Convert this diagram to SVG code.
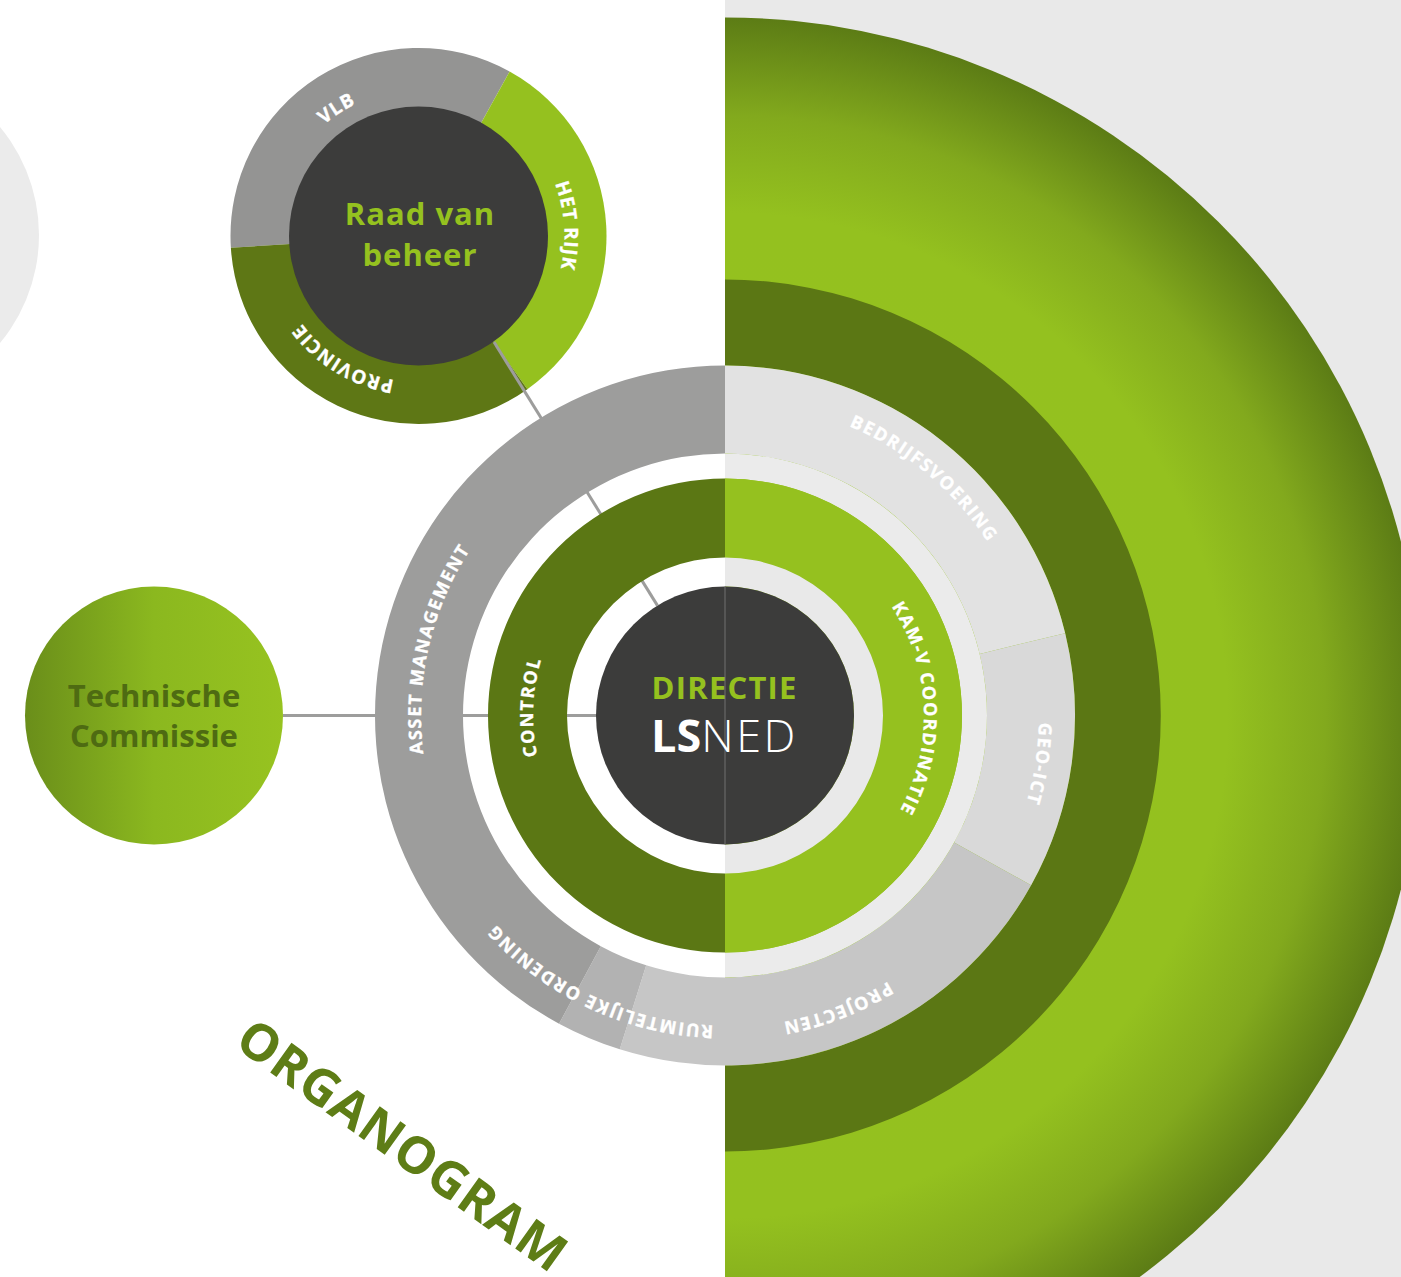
<svg xmlns="http://www.w3.org/2000/svg" width="1401" height="1277" viewBox="0 0 1401 1277">
<defs>
<radialGradient id="bigGreen" gradientUnits="userSpaceOnUse" cx="725" cy="715.5" r="698">
<stop offset="0" stop-color="#95c11f"/>
<stop offset="0.72" stop-color="#94c11f"/>
<stop offset="0.86" stop-color="#82a91d"/>
<stop offset="1" stop-color="#5c7c15"/>
</radialGradient>
<linearGradient id="tcGreen" gradientUnits="userSpaceOnUse" x1="25" y1="0" x2="283" y2="0">
<stop offset="0" stop-color="#6a8e1a"/>
<stop offset="0.5" stop-color="#8bb81f"/>
<stop offset="1" stop-color="#97c320"/>
</linearGradient>
<path id="pBedr" d="M522.52,474.2 A315,315 0 0 1 997.8,873"/>
<path id="pGeo" d="M826.19,418.25 A314,314 0 0 1 731.58,1029.43"/>
<path id="pProj" d="M1031.27,655.97 A312,312 0 0 1 457.56,876.19"/>
<path id="pRuim" d="M978.94,893.31 A310,310 0 0 1 425.56,635.27"/>
<path id="pAsset" d="M606.22,995.33 A304,304 0 0 1 740.91,411.92"/>
<path id="pControl" d="M683.44,902.95 A192,192 0 0 1 699.94,525.14"/>
<path id="pKam" d="M752.01,518.34 A199,199 0 0 1 767.05,910.01"/>
<path id="pVlb" d="M283.81,292.34 A146,146 0 0 1 525.8,136.99"/>
<path id="pHet" d="M433.76,90.8 A146,146 0 0 1 453.82,377.66"/>
<path id="pProv" d="M527.85,332.74 A146,146 0 0 1 282.66,182.49"/>
</defs>
<style>
.ring{font-family:"Open Sans","Liberation Sans",sans-serif;font-weight:700;fill:#ffffff;stroke:#ffffff;stroke-width:0.3px;font-size:18px;letter-spacing:1.6px;}
.rring{font-family:"Open Sans","Liberation Sans",sans-serif;font-weight:700;fill:#ffffff;stroke:#ffffff;stroke-width:0.3px;font-size:19px;letter-spacing:1px;}
.title{font-family:"Open Sans","Liberation Sans",sans-serif;font-weight:700;text-anchor:middle;}
.conn{stroke:#9d9d9c;stroke-width:3;fill:none;}
</style>
<rect x="0" y="0" width="1401" height="1277" fill="#ffffff"/>
<rect x="725" y="0" width="676" height="1277" fill="#e9e9e9"/>
<circle cx="-130" cy="235" r="169" fill="#ebebeb"/>
<g id="background-arcs">
<path d="M725,17.5 A698,698 0 0 1 725,1413.5 Z" fill="url(#bigGreen)"/>
<path d="M725,279.5 A436,436 0 0 1 725,1151.5 L725,1065.5 A350,350 0 0 0 725,365.5 Z" fill="#5b7714"/>
</g>
<g id="raad-van-beheer">
<path d="M418.5,236 L230.87,247.8 A188,188 0 0 1 509.64,71.57 Z" fill="#949493"/>
<path d="M418.5,236 L509.64,71.57 A188,188 0 0 1 527.4,389.24 Z" fill="#95c11f"/>
<path d="M418.5,236 L527.4,389.24 A188,188 0 0 1 230.87,247.8 Z" fill="#5e7715"/>
<circle cx="418.5" cy="236" r="129.5" fill="#3c3c3b"/>
<text class="rring"><textPath href="#pVlb" startOffset="50%" text-anchor="middle">VLB</textPath></text>
<text class="rring"><textPath href="#pHet" startOffset="50%" text-anchor="middle">HET RIJK</textPath></text>
<text class="rring"><textPath href="#pProv" startOffset="50%" text-anchor="middle">PROVINCIE</textPath></text>
<text class="title" x="420" y="225" font-size="31" fill="#95c11f" letter-spacing="1">Raad van</text>
<text class="title" x="420" y="266" font-size="31" fill="#95c11f" letter-spacing="1">beheer</text>
</g>
<g id="connectors">
<line class="conn" x1="283" y1="715.5" x2="596" y2="715.5"/>
<line class="conn" x1="494" y1="342" x2="657.5" y2="605.6"/>
</g>
<g id="technische-commissie">
<circle cx="154" cy="715.5" r="129" fill="url(#tcGreen)"/>
<text class="title" x="154" y="707" font-size="31" fill="#4e6b12">Technische</text>
<text class="title" x="154" y="747" font-size="31" fill="#4e6b12">Commissie</text>
</g>
<g id="bedrijfsvoering">
<path d="M725,365.5 A350,350 0 0 1 1065.19,633.2 L979.65,653.89 A262,262 0 0 0 725,453.5 Z" fill="#e2e2e2"/>
<text class="ring"><textPath href="#pBedr" startOffset="50%" text-anchor="middle">BEDRIJFSVOERING</textPath></text>
</g>
<g id="geo-ict">
<path d="M1065.19,633.2 A350,350 0 0 1 1031.12,885.18 L954.15,842.52 A262,262 0 0 0 979.65,653.89 Z" fill="#d9d9d9"/>
<text class="ring"><textPath href="#pGeo" startOffset="50%" text-anchor="middle">GEO-ICT</textPath></text>
</g>
<g id="projecten">
<path d="M1031.12,885.18 A350,350 0 0 1 619.75,1049.3 L646.21,965.37 A262,262 0 0 0 954.15,842.52 Z" fill="#c6c6c6"/>
<text class="ring"><textPath href="#pProj" startOffset="50%" text-anchor="middle">PROJECTEN</textPath></text>
</g>
<g id="ruimtelijke-ordening">
<path d="M619.75,1049.3 A350,350 0 0 1 559.07,1023.67 L600.79,946.19 A262,262 0 0 0 646.21,965.37 Z" fill="#b2b2b2"/>
</g>
<g id="asset-management">
<path d="M559.07,1023.67 A350,350 0 0 1 725,365.5 L725,453.5 A262,262 0 0 0 600.79,946.19 Z" fill="#9d9d9c"/>
<text class="ring"><textPath href="#pAsset" startOffset="50%" text-anchor="middle">ASSET MANAGEMENT</textPath></text>
</g>
<text class="ring"><textPath href="#pRuim" startOffset="50%" text-anchor="middle">RUIMTELIJKE ORDENING</textPath></text>
<path d="M725,453.5 A262,262 0 0 1 725,977.5 L725,952.5 A237,237 0 0 0 725,478.5 Z" fill="#ebebeb"/>
<g id="control">
<path d="M725,952.5 A237,237 0 0 1 725,478.5 L725,557.5 A158,158 0 0 0 725,873.5 Z" fill="#5b7714"/>
<text class="ring"><textPath href="#pControl" startOffset="50%" text-anchor="middle">CONTROL</textPath></text>
</g>
<g id="kam-v-coordinatie">
<path d="M725,478.5 A237,237 0 0 1 725,952.5 L725,873.5 A158,158 0 0 0 725,557.5 Z" fill="#95c11f"/>
<text class="ring"><textPath href="#pKam" startOffset="50%" text-anchor="middle">KAM-V COORDINATIE</textPath></text>
</g>
<path d="M725,557.5 A158,158 0 0 1 725,873.5 L725,844.5 A129,129 0 0 0 725,586.5 Z" fill="#e9e9e9"/>
<g id="directie">
<circle cx="725" cy="715.5" r="129" fill="#3c3c3b"/>
<line x1="725" y1="586.5" x2="725" y2="844.5" stroke="#707070" stroke-width="1"/>
<text class="title" x="724.6" y="699" font-size="31" fill="#95c11f" letter-spacing="1.2">DIRECTIE</text>
<text x="651" y="752" font-family="'Open Sans','Liberation Sans',sans-serif" font-size="45" fill="#ffffff"><tspan font-weight="700">LS</tspan><tspan font-weight="300" letter-spacing="2.5">NED</tspan></text>
</g>
<text class="title" transform="translate(392,1160) rotate(35.7)" font-size="51" fill="#5e7d16" letter-spacing="1">ORGANOGRAM</text>
</svg>
